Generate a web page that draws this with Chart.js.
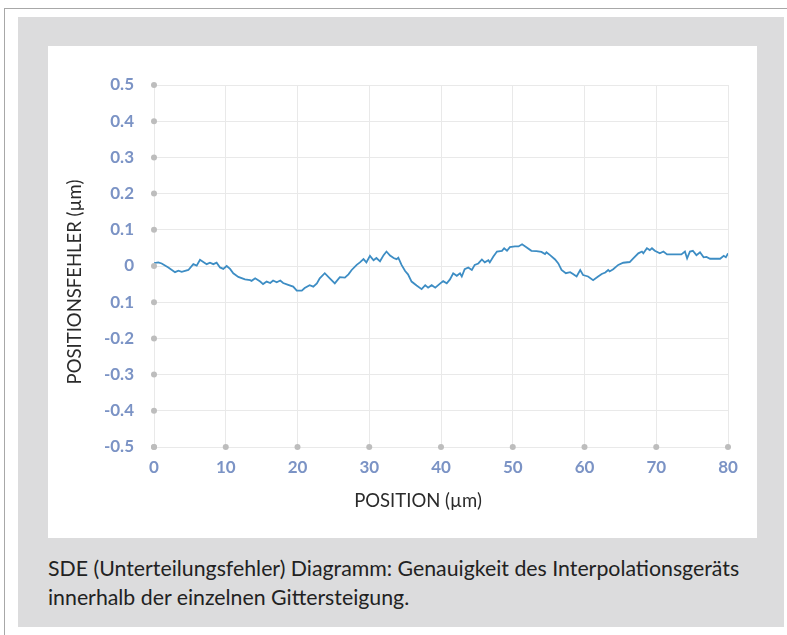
<!DOCTYPE html>
<html>
<head>
<meta charset="utf-8">
<script src="https://cdn.jsdelivr.net/npm/chart.js@4/dist/chart.umd.min.js"></script>
<style>
  html, body { margin: 0; padding: 0; background: #ffffff; }
  body { width: 787px; height: 635px; position: relative; overflow: hidden; }
  #frame { position: absolute; left: 4px; top: 8px; width: 800px; height: 700px;
           border-top: 1px solid #a8a8a8; border-left: 1px solid #a8a8a8; }
  #panel { position: absolute; left: 18px; top: 17px; width: 766px; height: 610px; background: #dcdcdd; }
  #plotbox { position: absolute; left: 48px; top: 46px; width: 709px; height: 492px; background: #ffffff; }
  #caption { position: absolute; left: 48px; top: 554px; width: 730px; white-space: nowrap;
             font-family: Lato, "Open Sans", sans-serif; font-size: 21.3px; line-height: 29px; color: #222222; }
  #c { position: absolute; left: 0; top: 0; }
</style>
</head>
<body>
<div id="frame"></div>
<div id="panel"></div>
<div id="plotbox"></div>
<div id="caption">SDE (Unterteilungsfehler) Diagramm: Genauigkeit des Interpolationsgeräts<br>innerhalb der einzelnen Gittersteigung.</div>
<canvas id="c" width="787" height="635"></canvas>
<script>
// Data
const positions = [
  0, 0.6, 1.07, 2.0, 2.93, 3.4, 3.86, 4.79, 5.48, 5.95, 6.41, 6.87, 7.34, 7.8, 8.27, 8.73, 9.2, 9.66,
  10.13, 10.6, 11.05, 11.75, 12.68, 13.4, 13.6, 14.1, 14.8, 15.2, 15.7, 16.2, 16.6, 17.1, 17.6, 18.0,
  18.7, 19.4, 19.9, 20.6, 21.0, 21.7, 22.2, 22.7, 23.1, 23.8, 24.5, 25.2, 25.9, 26.6, 27.1, 27.55,
  28.25, 28.7, 29.2, 29.6, 30.1, 30.6, 31.0, 31.5, 32.0, 32.4, 32.9, 33.4, 33.8, 34.05, 34.5, 35.0,
  35.4, 35.9, 36.6, 37.3, 37.8, 38.2, 38.7, 39.2, 39.9, 40.3, 40.8, 41.25, 41.7, 42.2, 42.65, 42.9,
  43.3, 43.8, 44.3, 44.7, 45.2, 45.7, 46.1, 46.6, 46.8, 47.3, 47.8, 48.5, 48.8, 49.2, 49.6, 50.3,
  50.8, 51.3, 51.9, 52.6, 53.3, 54.0, 54.5, 54.7, 55.2, 55.9, 56.35, 56.8, 57.4, 58.0, 58.4, 58.9,
  59.4, 59.8, 60.5, 61.2, 61.9, 62.4, 62.9, 63.3, 63.5, 64.0, 64.7, 65.4, 66.3, 66.8, 67.5, 68.0,
  68.2, 68.7, 69.1, 69.4, 69.8, 70.5, 71.0, 71.5, 72.4, 73.5, 74.0, 74.3, 74.7, 75.1, 75.6, 76.1,
  76.6, 77.0, 77.5, 78.9, 79.4, 79.7, 80.0
];
const errors = [
  0.008, 0.010, 0.007, -0.004, -0.017, -0.013, -0.016, -0.011, 0.005, 0.001, 0.017, 0.011, 0.005, 0.009, 0.005, 0.009, -0.004, -0.008,
  0.000, -0.008, -0.020, -0.030, -0.037, -0.039, -0.041, -0.034, -0.043, -0.050, -0.043, -0.047, -0.040, -0.045, -0.040, -0.047,
  -0.052, -0.057, -0.068, -0.068, -0.061, -0.053, -0.057, -0.048, -0.034, -0.020, -0.034, -0.048, -0.031, -0.032, -0.023, -0.011,
  0.003, 0.010, 0.019, 0.010, 0.028, 0.016, 0.022, 0.013, 0.030, 0.040, 0.029, 0.022, 0.019, 0.023, 0.003, -0.014,
  -0.023, -0.043, -0.054, -0.064, -0.053, -0.060, -0.053, -0.060, -0.048, -0.042, -0.048, -0.037, -0.020, -0.027, -0.020, -0.029,
  -0.009, -0.004, -0.011, 0.003, 0.007, 0.018, 0.010, 0.016, 0.010, 0.026, 0.040, 0.042, 0.049, 0.042, 0.052, 0.054,
  0.054, 0.060, 0.052, 0.042, 0.041, 0.039, 0.033, 0.038, 0.030, 0.018, 0.007, -0.011, -0.020, -0.017, -0.022, -0.029,
  -0.011, -0.025, -0.029, -0.039, -0.029, -0.022, -0.018, -0.011, -0.015, -0.009, 0.003, 0.009, 0.011, 0.021, 0.035, 0.040,
  0.035, 0.049, 0.044, 0.049, 0.042, 0.035, 0.040, 0.032, 0.032, 0.032, 0.040, 0.021, 0.040, 0.042, 0.030, 0.038,
  0.024, 0.025, 0.020, 0.020, 0.028, 0.024, 0.035
];
const yTickValues = [-0.5, -0.4, -0.3, -0.2, -0.1, 0, 0.1, 0.2, 0.3, 0.4, 0.5];
const yTickLabels = ['-0.5', '-0.4', '-0.3', '-0.2', '0.1', '0', '0.1', '0.2', '0.3', '0.4', '0.5'];
const xTickValues = [0, 10, 20, 30, 40, 50, 60, 70, 80];
const xTickLabels = ['0', '10', '20', '30', '40', '50', '60', '70', '80'];
const xTitle = 'POSITION (µm)';
const yTitle = 'POSITIONSFEHLER (µm)';

const points = positions.map((p, i) => ({ x: p, y: errors[i] }));
const tickColor = '#7b93c5';
const tickFont = { family: 'Lato, "Open Sans", sans-serif', size: 17, weight: 'bold' };
const titleFontCss = '18.5px Lato, "Open Sans", sans-serif';

const tickDots = {
  id: 'tickDots',
  afterDatasetsDraw(chart) {
    const ctx = chart.ctx;
    const xs = chart.scales.x, ys = chart.scales.y;
    ctx.save();
    ctx.fillStyle = '#bdbdbd';
    const x0 = xs.getPixelForValue(0);
    yTickValues.forEach(v => {
      ctx.beginPath(); ctx.arc(x0, ys.getPixelForValue(v), 3, 0, Math.PI * 2); ctx.fill();
    });
    const y0 = ys.getPixelForValue(-0.5);
    xTickValues.forEach(v => {
      ctx.beginPath(); ctx.arc(xs.getPixelForValue(v), y0, 3, 0, Math.PI * 2); ctx.fill();
    });
    ctx.restore();
  }
};

// axis titles, placed relative to the library's chart area
const axisTitles = {
  id: 'axisTitles',
  afterDraw(chart) {
    const ctx = chart.ctx;
    const a = chart.chartArea;
    ctx.save();
    ctx.fillStyle = '#2b2b2b';
    ctx.font = titleFontCss;
    ctx.textAlign = 'center';
    ctx.textBaseline = 'middle';
    ctx.fillText(xTitle, (a.left + a.right) / 2 - 23, a.bottom + 54);
    ctx.translate(a.left - 79, (a.top + a.bottom) / 2 + 16);
    ctx.rotate(-Math.PI / 2);
    ctx.fillText(yTitle, 0, 0);
    ctx.restore();
  }
};

new Chart(document.getElementById('c'), {
  type: 'line',
  data: {
    datasets: [{
      data: points,
      borderColor: '#3d8dc4',
      borderWidth: 1.8,
      pointRadius: 0,
      tension: 0,
      fill: false
    }]
  },
  options: {
    responsive: false,
    animation: false,
    layout: { padding: { left: 64, right: 59, top: 85, bottom: 123 } },
    plugins: { legend: { display: false }, tooltip: { enabled: false } },
    scales: {
      x: {
        type: 'linear', min: 0, max: 80,
        afterBuildTicks: s => { s.ticks = xTickValues.map(v => ({ value: v })); },
        afterFit: s => { s.height = 65; },
        ticks: { color: tickColor, font: tickFont, padding: 10,
                 callback: (v) => xTickLabels[xTickValues.indexOf(v)] },
        grid: { color: '#e9e9e9', lineWidth: 1, drawTicks: false },
        border: { display: false },
        title: { display: false }
      },
      y: {
        type: 'linear', min: -0.5, max: 0.5,
        afterBuildTicks: s => { s.ticks = yTickValues.map(v => ({ value: v })); },
        afterFit: s => { s.width = 90; },
        ticks: { color: tickColor, font: tickFont, padding: 20,
                 callback: (v) => yTickLabels[Math.round(v * 10) + 5] },
        grid: { color: '#e9e9e9', lineWidth: 1, drawTicks: false },
        border: { display: false },
        title: { display: false }
      }
    }
  },
  plugins: [tickDots, axisTitles]
});
</script>
</body>
</html>
